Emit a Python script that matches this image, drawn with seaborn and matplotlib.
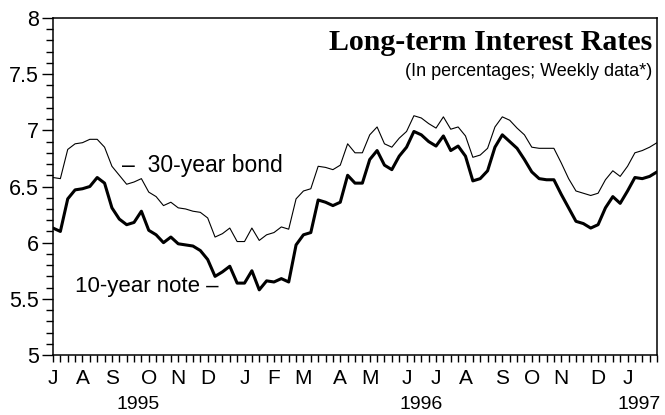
import matplotlib
matplotlib.use("Agg")
import matplotlib.pyplot as plt
import matplotlib.transforms as mtransforms
import pandas as pd
import seaborn as sns


START = "1995-07-07"
MONTH_LETTERS = ["J", "A", "S", "O", "N", "D", "J", "F", "M", "A", "M", "J", "J", "A", "S", "O", "N", "D", "J"]
YEARS = ["1995", "1996", "1997"]

BOND_30Y = [
    6.58, 6.57, 6.83, 6.88, 6.89, 6.92, 6.92, 6.85, 6.68, 6.60,
    6.52, 6.54, 6.57, 6.45, 6.41, 6.33, 6.36, 6.31, 6.30, 6.28,
    6.27, 6.22, 6.05, 6.08, 6.13, 6.01, 6.01, 6.13, 6.02, 6.07,
    6.09, 6.14, 6.12, 6.39, 6.46, 6.48, 6.68, 6.67, 6.65, 6.69,
    6.88, 6.80, 6.80, 6.96, 7.03, 6.88, 6.85, 6.93, 6.99, 7.13,
    7.11, 7.06, 7.02, 7.12, 7.01, 7.03, 6.95, 6.76, 6.78, 6.84,
    7.03, 7.12, 7.09, 7.02, 6.96, 6.85, 6.84, 6.84, 6.84, 6.71,
    6.57, 6.46, 6.44, 6.42, 6.44, 6.56, 6.64, 6.59, 6.68, 6.80,
    6.82, 6.85, 6.89,
]
NOTE_10Y = [
    6.13, 6.10, 6.39, 6.47, 6.48, 6.50, 6.58, 6.53, 6.31, 6.21,
    6.16, 6.18, 6.28, 6.11, 6.07, 6.00, 6.05, 5.99, 5.98, 5.97,
    5.93, 5.85, 5.70, 5.74, 5.79, 5.64, 5.64, 5.75, 5.58, 5.66,
    5.65, 5.68, 5.65, 5.98, 6.07, 6.09, 6.38, 6.36, 6.33, 6.36,
    6.60, 6.53, 6.53, 6.74, 6.82, 6.69, 6.65, 6.77, 6.85, 6.99,
    6.96, 6.90, 6.86, 6.95, 6.82, 6.86, 6.77, 6.55, 6.57, 6.64,
    6.85, 6.96, 6.90, 6.84, 6.74, 6.63, 6.57, 6.56, 6.56, 6.43,
    6.31, 6.19, 6.17, 6.13, 6.16, 6.31, 6.41, 6.35, 6.46, 6.58,
    6.57, 6.59, 6.63,
]

sns.set_theme(style="ticks")
plt.rcParams["font.family"] = ["Liberation Sans", "DejaVu Sans"]
plt.rcParams["text.color"] = "black"
plt.rcParams["xtick.color"] = "black"
plt.rcParams["ytick.color"] = "black"
plt.rcParams["xtick.labelcolor"] = "black"
plt.rcParams["ytick.labelcolor"] = "black"

dates = pd.date_range(START, periods=len(BOND_30Y), freq="7D")
df = pd.DataFrame({"date": dates, "bond": BOND_30Y, "note": NOTE_10Y})

fig = plt.figure(figsize=(6.65, 4.15), dpi=100)
ax = fig.add_axes([53 / 665, 1 - 355 / 415, 604 / 665, 337 / 415])

sns.lineplot(data=df, x="date", y="bond", color="black", linewidth=0.8, ax=ax)
sns.lineplot(data=df, x="date", y="note", color="black", linewidth=2.2, ax=ax)

ax.set_xlim(dates[0], dates[-1])
ax.set_ylim(5, 8)
ax.set_xlabel("")
ax.set_ylabel("")

# y axis: labels every 0.5, minor every 0.1
ax.set_yticks([5, 5.5, 6, 6.5, 7, 7.5, 8], labels=["5", "5.5", "6", "6.5", "7", "7.5", "8"])
ax.set_yticks([5 + i / 10 for i in range(31)], minor=True)
ax.tick_params(axis="y", which="major", length=8, width=1, pad=2, labelsize=15.5)
ax.tick_params(axis="y", which="minor", length=5, width=1)

# x axis: a tick every week, month letter at first week of each month
first_weeks = df.groupby(df["date"].dt.to_period("M"))["date"].first().tolist()
ax.set_xticks(first_weeks, labels=MONTH_LETTERS[: len(first_weeks)])
ax.set_xticks(dates, minor=True)
ax.tick_params(axis="x", which="both", length=5, width=1, pad=5, labelsize=15)

for spine in ax.spines.values():
    spine.set_visible(True)
    spine.set_linewidth(1.1)
    spine.set_color("black")

trans = mtransforms.blended_transform_factory(ax.transData, ax.transAxes)
ax.text(pd.Timestamp("1995-09-26"), -0.148, YEARS[0], transform=trans, ha="center", va="center", fontsize=14)
ax.text(pd.Timestamp("1996-06-21"), -0.148, YEARS[1], transform=trans, ha="center", va="center", fontsize=14)
ax.text(1.006, -0.148, YEARS[2], transform=ax.transAxes, ha="right", va="center", fontsize=14)

ax.text(0.992, 0.905, "Long-term Interest Rates", transform=ax.transAxes, ha="right", va="baseline",
        fontsize=21.5, fontweight="bold", family=["Liberation Serif", "DejaVu Serif"])
ax.text(0.992, 0.828, "(In percentages; Weekly data*)", transform=ax.transAxes, ha="right",
        va="baseline", fontsize=13)

ax.text(0.114, 0.561, "\u2013  30-year bond", transform=ax.transAxes, ha="left", va="center", fontsize=16.5)
ax.text(0.036, 0.202, "10-year note \u2013", transform=ax.transAxes, ha="left", va="center", fontsize=16)

fig.savefig("out.png", dpi=100, facecolor="white")
plt.close(fig)
